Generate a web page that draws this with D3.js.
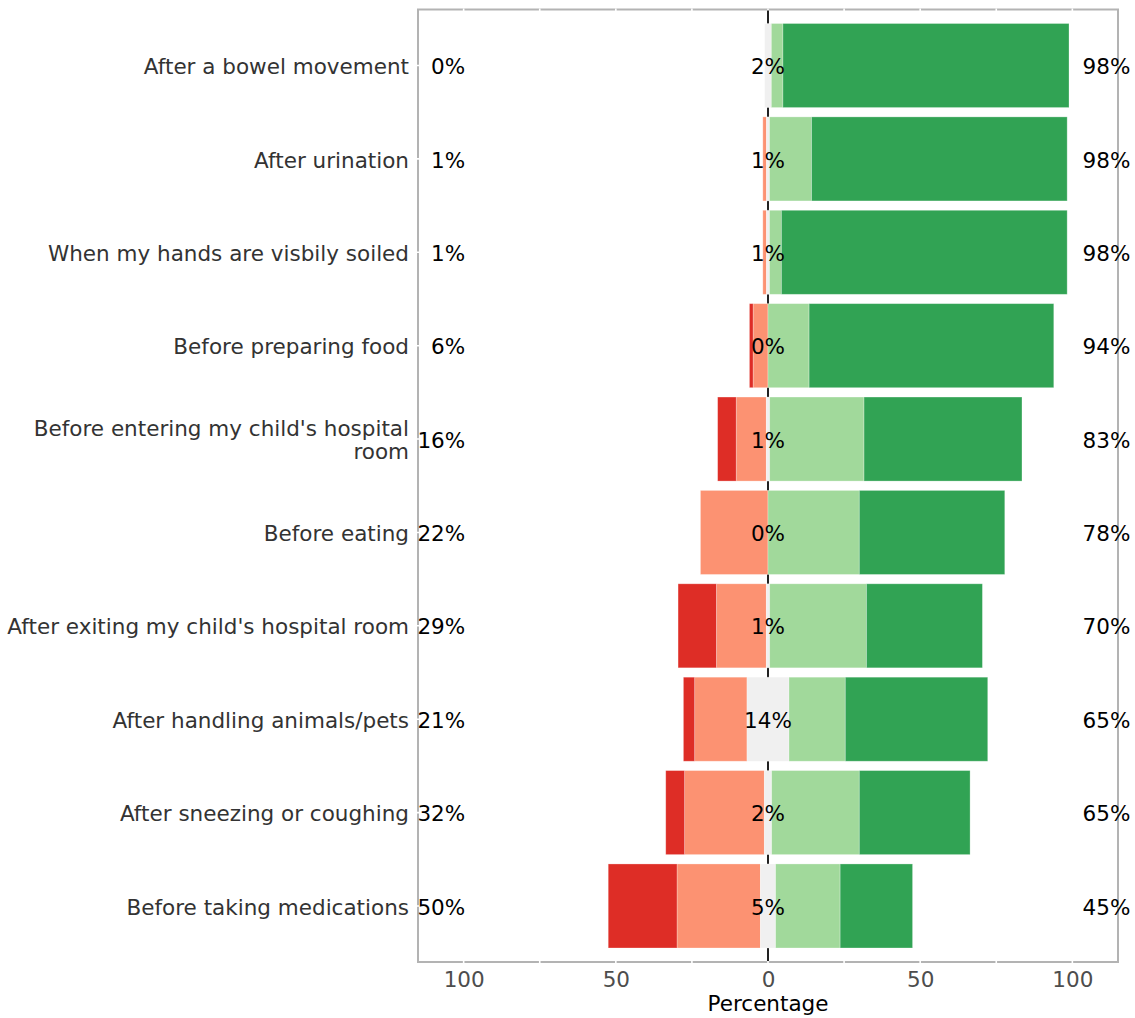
<!DOCTYPE html>
<html>
<head>
<meta charset="utf-8">
<script src="https://cdn.jsdelivr.net/npm/d3@7"></script>
<style>
  html, body { margin: 0; padding: 0; background: #ffffff; }
  svg { display: block; font-family: "DejaVu Sans", sans-serif; }
</style>
</head>
<body>
<svg id="chart" width="1135" height="1018"></svg>
<script>
// ---- data ----
const categories = [
  "After a bowel movement",
  "After urination",
  "When my hands are visbily soiled",
  "Before preparing food",
  "Before entering my child's hospital\nroom",
  "Before eating",
  "After exiting my child's hospital room",
  "After handling animals/pets",
  "After sneezing or coughing",
  "Before taking medications"
];
const stronglyDisagree = [0, 0, 0, 1.2, 6.1, 0, 12.6, 3.7, 6.2, 22.6];
const disagree         = [0, 1.2, 1.2, 4.9, 9.9, 22.2, 16.4, 17.2, 26.2, 27.4];
const neutral          = [2.2, 1.0, 1.0, 0, 1.1, 0, 1.1, 13.8, 2.4, 5.0];
const agree            = [3.8, 13.8, 3.9, 13.5, 31.0, 30.0, 31.8, 18.5, 28.8, 21.2];
const stronglyAgree    = [94.0, 84.0, 93.9, 80.4, 51.9, 47.8, 38.1, 46.8, 36.4, 23.8];
const tickValues = [-100, -50, 0, 50, 100];
const tickLabels = ["100", "50", "0", "50", "100"];
const minorTicks = [-75, -25, 25, 75];
const xTitle = "Percentage";

const colors = {
  sd: "#de2d26", d: "#fc9272", n: "#f0f0f0", a: "#a1d99b", sa: "#31a354"
};

// ---- layout ----
const FS = 21.5;
const svg = d3.select("#chart");
const panel = { left: 418, right: 1118, top: 9.5, bottom: 962 };

const x = d3.scaleLinear().domain([-115, 115]).range([panel.left, panel.right]);
const y = d3.scaleBand().domain(categories)
  .range([panel.top, panel.bottom]).paddingInner(0.1).paddingOuter(0.15);
const yc = c => y(c) + y.bandwidth() / 2;

// panel border
svg.append("rect")
  .attr("x", panel.left).attr("y", panel.top)
  .attr("width", panel.right - panel.left).attr("height", panel.bottom - panel.top)
  .attr("fill", "#ffffff").attr("stroke", "#b3b3b3").attr("stroke-width", 2);

// gridlines (white; visible only where they cross the border)
const grid = svg.append("g");
grid.selectAll("line.v").data(tickValues.concat(minorTicks)).join("line")
  .attr("x1", d => x(d)).attr("x2", d => x(d))
  .attr("y1", panel.top - 1).attr("y2", panel.bottom + 1)
  .attr("stroke", "#ffffff").attr("stroke-width", 1.6);
grid.selectAll("line.h").data(categories).join("line")
  .attr("x1", panel.left - 1).attr("x2", panel.right + 1)
  .attr("y1", d => yc(d)).attr("y2", d => yc(d))
  .attr("stroke", "#ffffff").attr("stroke-width", 1.6);

// zero line
svg.append("line")
  .attr("x1", x(0)).attr("x2", x(0))
  .attr("y1", panel.top + 1).attr("y2", panel.bottom - 1)
  .attr("stroke", "#222").attr("stroke-width", 2);

// ---- stacked segments ----
const rows = categories.map((c, i) => ({
  c, sd: stronglyDisagree[i], d: disagree[i], n: neutral[i], a: agree[i], sa: stronglyAgree[i]
}));
const segs = [];
rows.forEach(r => {
  const h = r.n / 2;
  segs.push({ c: r.c, k: "d",  x0: -h - r.d, x1: -h });
  segs.push({ c: r.c, k: "sd", x0: -h - r.d - r.sd, x1: -h - r.d });
  segs.push({ c: r.c, k: "n",  x0: -h, x1: h });
  segs.push({ c: r.c, k: "a",  x0: h, x1: h + r.a });
  segs.push({ c: r.c, k: "sa", x0: h + r.a, x1: h + r.a + r.sa });
});
svg.append("g").selectAll("rect").data(segs.filter(s => s.x1 - s.x0 > 0)).join("rect")
  .attr("x", s => x(s.x0)).attr("width", s => x(s.x1) - x(s.x0))
  .attr("y", s => y(s.c)).attr("height", y.bandwidth())
  .attr("fill", s => colors[s.k])
  .attr("stroke", "#ffffff").attr("stroke-opacity", 0.35).attr("stroke-width", 0.8);

// ---- percentage labels ----
const fmt = v => Math.round(v) + "%";
const lab = svg.append("g").attr("font-size", FS).attr("fill", "#000");
lab.selectAll("text.l").data(rows).join("text")
  .attr("text-anchor", "end")
  .attr("x", x(-99.5)).attr("y", r => yc(r.c)).attr("dy", "0.4em")
  .text(r => fmt(r.sd + r.d));
lab.selectAll("text.m").data(rows).join("text")
  .attr("text-anchor", "middle")
  .attr("x", x(0)).attr("y", r => yc(r.c)).attr("dy", "0.4em")
  .text(r => fmt(r.n));
lab.selectAll("text.r").data(rows).join("text")
  .attr("text-anchor", "middle")
  .attr("x", x(111.2)).attr("y", r => yc(r.c)).attr("dy", "0.4em")
  .text(r => fmt(r.a + r.sa));

// ---- category axis labels ----
const cat = svg.append("g").attr("font-size", FS).attr("fill", "#333").attr("text-anchor", "end");
categories.forEach(c => {
  const lines = c.split("\n");
  const t = cat.append("text").attr("x", 409).attr("y", yc(c));
  lines.forEach((ln, j) => {
    t.append("tspan").attr("x", 409)
      .attr("dy", j === 0 ? (0.4 - (lines.length - 1) * 0.55) + "em" : "1.1em")
      .text(ln);
  });
});

// ---- x axis ----
const xAxis = d3.axisBottom(x).tickValues(tickValues)
  .tickFormat((d, i) => tickLabels[i]).tickSize(0).tickPadding(0);
const ax = svg.append("g").attr("transform", `translate(0,${panel.bottom})`).call(xAxis);
ax.select(".domain").remove();
ax.selectAll("text").attr("font-size", FS).attr("fill", "#4d4d4d")
  .attr("font-family", "DejaVu Sans, sans-serif").attr("dy", null).attr("y", 25);

svg.append("text").attr("x", x(0)).attr("y", 1011)
  .attr("text-anchor", "middle").attr("font-size", FS).attr("fill", "#000")
  .text(xTitle);
</script>
</body>
</html>
